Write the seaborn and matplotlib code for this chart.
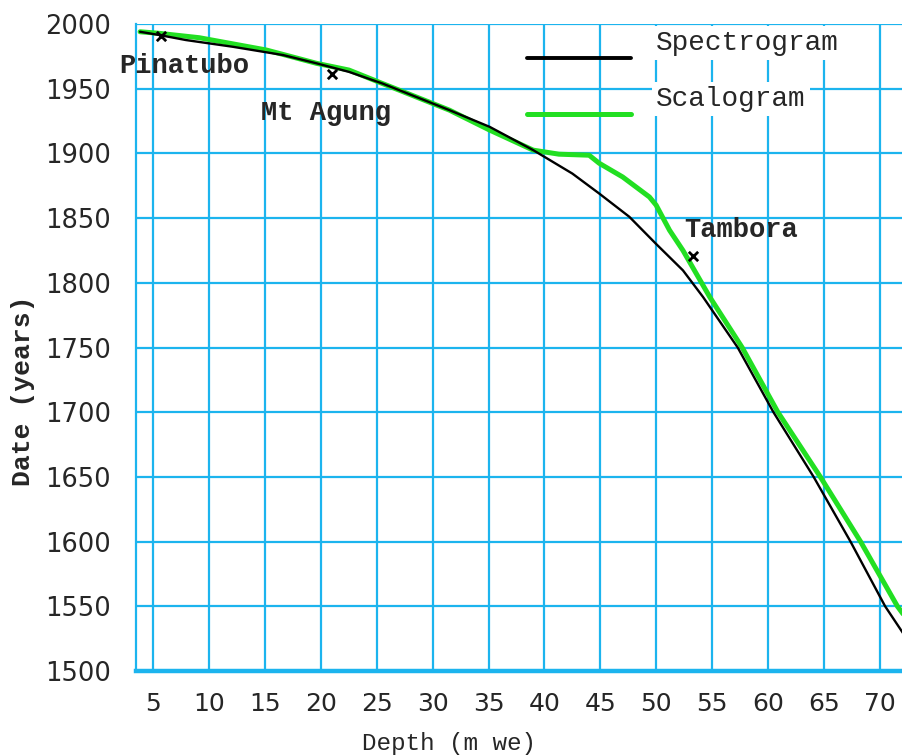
import matplotlib
matplotlib.use("Agg")
import matplotlib.pyplot as plt
import seaborn as sns
import numpy as np
import pandas as pd
from matplotlib.legend_handler import HandlerLine2D

# ---- data ----
spec_depth = [3.8, 5.5, 7.9, 12.1, 16.6, 19.6, 22.5, 25.5, 28.5, 31.5, 35.1, 39.0,
              42.5, 44.9, 47.6, 50.0, 52.4, 54.2, 57.3, 60.5, 64.1, 67.4, 70.5, 72.2, 73.0]
spec_year = [1994, 1991.5, 1987.6, 1982.4, 1976, 1969.6, 1963, 1954, 1943.7, 1933.4, 1920.5, 1902.5,
             1884.4, 1869, 1851, 1830, 1809.6, 1789, 1750, 1700, 1650, 1600, 1550, 1528, 1517]

scal_depth = [3.8, 5.5, 9.1, 15.1, 19.6, 22.5, 25.5, 28.5, 31.5, 35.1, 39.0, 41.3,
              44.0, 44.9, 47.0, 49.4, 50.0, 51.2, 52.4, 53.6, 54.8, 57.7, 60.9, 64.7,
              68.3, 71.6, 72.2, 73.0]
scal_year = [1994, 1992.8, 1989.4, 1979.9, 1969.6, 1964.4, 1954, 1943.7, 1933.4, 1918, 1902.5, 1899.4,
             1898.6, 1892.4, 1881.8, 1866.3, 1860, 1840.6, 1825, 1807, 1789, 1750, 1700, 1650,
             1600, 1550, 1543, 1533]

event_names = ["Pinatubo", "Mt Agung", "Tambora"]
event_depth = [5.7, 21.0, 53.3]
event_year = [1990.5, 1961.5, 1821]

x_ticks = [5, 10, 15, 20, 25, 30, 35, 40, 45, 50, 55, 60, 65, 70]
y_ticks = [1500, 1550, 1600, 1650, 1700, 1750, 1800, 1850, 1900, 1950, 2000]

series_names = ["Spectrogram", "Scalogram"]

# ---- style ----
W, H = 903, 756
GRID = "#1CB4EE"
GREEN = "#22DF22"

sns.set_style("white")
plt.rcParams["font.family"] = ["DejaVu Sans"]

fig = plt.figure(figsize=(W / 100, H / 100), dpi=100)
ax_left, ax_right, ax_top, ax_bottom = 136.5, 915.0, 24.0, 671.0
ax = fig.add_axes([ax_left / W, 1 - ax_bottom / H, (ax_right - ax_left) / W, (ax_bottom - ax_top) / H])

df_spec = pd.DataFrame({"depth": spec_depth, "year": spec_year})
df_scal = pd.DataFrame({"depth": scal_depth, "year": scal_year})

sns.lineplot(data=df_spec, x="depth", y="year", ax=ax, color="black", lw=1.7,
             estimator=None, sort=False, label=series_names[0], zorder=4)
sns.lineplot(data=df_scal, x="depth", y="year", ax=ax, color=GREEN, lw=3.6,
             estimator=None, sort=False, label=series_names[1], zorder=3)

# event markers + labels
ax.scatter(event_depth, event_year, marker="x", s=45, color="black", linewidths=2.0, zorder=6)
offsets = [(16.5, -21.5), (-4.5, -28.5), (34.5, 18.5)]
for name, d, y, off in zip(event_names, event_depth, event_year, offsets):
    ax.annotate(name, xy=(d, y), xytext=off, textcoords="offset points",
                ha="center", va="center", fontsize=19.5, fontweight="bold",
                family=["Liberation Mono", "DejaVu Sans Mono"], zorder=7,
                annotation_clip=False)

# axes limits & ticks
px_per_unit = 11.17
x0 = 5 - (153.5 - ax_left) / px_per_unit
x1 = 5 + (ax_right - 153.5) / px_per_unit
ax.set_xlim(x0, x1)
ax.set_ylim(1500, 2000)
ax.set_xticks(x_ticks)
ax.set_yticks(y_ticks)
ax.tick_params(axis="y", length=4.5, width=1.5, color=GRID, pad=14, labelsize=18.5)
ax.tick_params(axis="x", length=5, width=1.5, color=GRID, pad=10, labelsize=18)

ax.grid(True, color=GRID, lw=1.6)
ax.set_axisbelow(True)
for s in ["top", "right"]:
    ax.spines[s].set_visible(False)
ax.spines["left"].set_color(GRID)
ax.spines["left"].set_linewidth(1.6)
ax.spines["bottom"].set_color(GRID)
ax.spines["bottom"].set_linewidth(3.2)

ax.set_xlabel("Depth (m we)", fontsize=17.5, family=["Liberation Mono", "DejaVu Sans Mono"])
ax.set_ylabel("Date (years)", fontsize=19, fontweight="bold",
              family=["Liberation Mono", "DejaVu Sans Mono"])
aw = ax_right - ax_left
ah = ax_bottom - ax_top
ax.xaxis.set_label_coords((449 - ax_left) / aw, (ax_bottom - 732) / ah)
ax.yaxis.set_label_coords((35 - ax_left) / aw, (ax_bottom - 391) / ah)


class ShiftedLine(HandlerLine2D):
    def create_artists(self, legend, orig_handle, xdescent, ydescent, width, height, fontsize, trans):
        arts = super().create_artists(legend, orig_handle, xdescent, ydescent, width, height, fontsize, trans)
        for a in arts:
            yd = np.asarray(a.get_ydata(), dtype=float)
            a.set_ydata(yd - 0.64 * fontsize)
        return arts


handles, labels = ax.get_legend_handles_labels()
leg = ax.legend(handles, labels, loc="upper left",
                bbox_to_anchor=((527 - ax_left) / aw, (ax_bottom - 30) / ah),
                frameon=False, borderpad=0, borderaxespad=0,
                handlelength=3.75, handletextpad=0.9, labelspacing=1.07,
                prop={"family": "Liberation Mono", "size": 20},
                handler_map={h: ShiftedLine() for h in handles})
for t in leg.get_texts():
    t.set_bbox(dict(facecolor="white", edgecolor="none", pad=3))
leg.get_lines()[0].set_linewidth(2.8)
leg.get_lines()[1].set_linewidth(3.6)

fig.savefig("out.png", dpi=100)
